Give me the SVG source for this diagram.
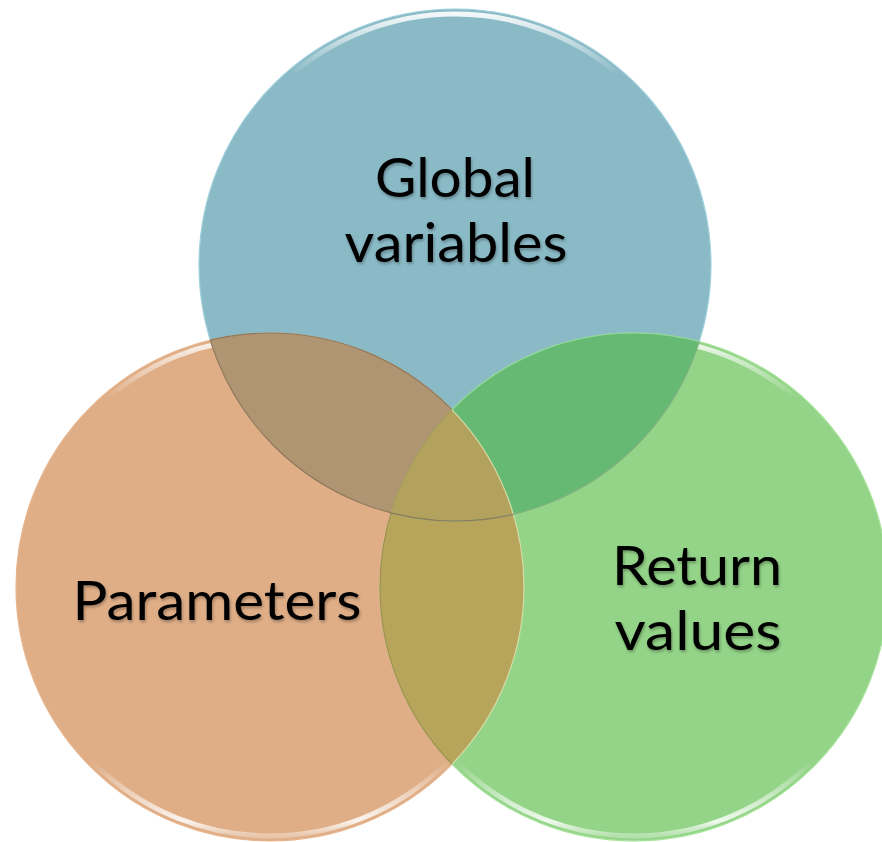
<svg xmlns="http://www.w3.org/2000/svg" width="882" height="842" viewBox="0 0 882 842">
<style>
.lbl{font-family:Lato,"Open Sans","Liberation Sans",sans-serif;font-size:54px;fill:#000;text-anchor:middle;filter:url(#ts)}
.rim{fill:none;stroke-width:5}
.edge{fill:none;stroke-width:1.2}
</style>
<defs>
<filter id="ts" x="-10%" y="-20%" width="120%" height="150%">
<feDropShadow dx="1" dy="2" stdDeviation="1.5" flood-color="#000" flood-opacity="0.3"/>
</filter>
<linearGradient id="rimg" x1="0" y1="0" x2="0" y2="1">
<stop offset="0" stop-color="#fff" stop-opacity="0.9"/>
<stop offset="0.12" stop-color="#fff" stop-opacity="0"/>
<stop offset="0.85" stop-color="#fff" stop-opacity="0"/>
<stop offset="0.97" stop-color="#fff" stop-opacity="0.85"/>
<stop offset="1" stop-color="#fff" stop-opacity="0.3"/>
</linearGradient>
<clipPath id="cB"><circle cx="455" cy="265" r="256"/></clipPath>
<clipPath id="cO"><circle cx="270" cy="587" r="254"/></clipPath>
<clipPath id="cG"><circle cx="634" cy="587" r="254"/></clipPath>
</defs>
<g id="global-variables">
<circle cx="455" cy="265" r="256" fill="#8abac6"/>
<circle class="rim" cx="455" cy="265" r="251" stroke="url(#rimg)"/>
<circle class="edge" cx="455" cy="265" r="256" stroke="#9fd0dc"/>
</g>
<g id="parameters">
<circle cx="270" cy="587" r="254" fill="#dfae87"/>
<circle class="rim" cx="270" cy="587" r="249" stroke="url(#rimg)"/>
<circle class="edge" cx="270" cy="587" r="254" stroke="#e6b58e"/>
</g>
<g id="return-values">
<circle cx="634" cy="587" r="254" fill="#94d488"/>
<circle class="rim" cx="634" cy="587" r="249" stroke="url(#rimg)"/>
<circle class="edge" cx="634" cy="587" r="254" stroke="#a8e39c"/>
</g>
<g id="overlaps">
<g clip-path="url(#cB)"><circle cx="270" cy="587" r="254" fill="#b09572"/><circle class="edge" cx="270" cy="587" r="254" stroke="#8f7a5c"/></g>
<g clip-path="url(#cB)"><circle cx="634" cy="587" r="254" fill="#66b972"/><circle class="edge" cx="634" cy="587" r="254" stroke="#8fd69a"/></g>
<g clip-path="url(#cO)"><circle cx="634" cy="587" r="254" fill="#b6a55b"/><circle class="edge" cx="634" cy="587" r="254" stroke="#a09050"/></g>
<g clip-path="url(#cB)"><g clip-path="url(#cO)"><circle cx="634" cy="587" r="254" fill="#b3a25d"/></g></g>
<g clip-path="url(#cG)"><circle class="edge" cx="270" cy="587" r="254" stroke="#d4dca8" stroke-width="2"/><circle class="edge" cx="455" cy="265" r="256" stroke="#7fb280"/></g>
<g clip-path="url(#cO)"><circle class="edge" cx="455" cy="265" r="256" stroke="#8f7a5c"/></g>
</g>
<g id="labels">
<text class="lbl" x="455" y="197" textLength="160" lengthAdjust="spacingAndGlyphs">Global</text>
<text class="lbl" x="456" y="262" textLength="223" lengthAdjust="spacingAndGlyphs">variables</text>
<text class="lbl" x="217" y="620" textLength="289" lengthAdjust="spacingAndGlyphs">Parameters</text>
<text class="lbl" x="697" y="585" textLength="170" lengthAdjust="spacingAndGlyphs">Return</text>
<text class="lbl" x="698" y="650" textLength="167" lengthAdjust="spacingAndGlyphs">values</text>
</g>
</svg>
